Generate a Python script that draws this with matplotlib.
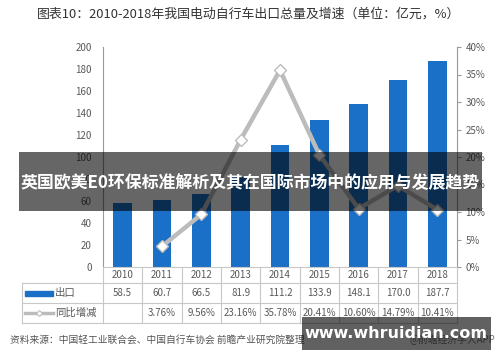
import matplotlib
matplotlib.use('Agg')
import matplotlib.pyplot as plt
import matplotlib.transforms as mtransforms
from matplotlib.patches import Rectangle
from matplotlib.lines import Line2D

plt.rcParams['font.family'] = ['Noto Sans CJK SC', 'DejaVu Sans']

# data
years = ['2010', '2011', '2012', '2013', '2014', '2015', '2016', '2017', '2018']
export = [58.5, 60.7, 66.5, 81.9, 111.2, 133.9, 148.1, 170.0, 187.7]
growth_years = years[1:]
growth = [3.76, 9.56, 23.16, 35.78, 20.41, 10.60, 14.79, 10.41]

title = '图表10：2010-2018年我国电动自行车出口总量及增速（单位：亿元，%）'
banner = '英国欧美E0环保标准解析及其在国际市场中的应用与发展趋势'
source = '资料来源：中国轻工业联合会、中国自行车协会 前瞻产业研究院整理'

blue = '#1a6fc6'
line_gray = '#bcbcbc'
txt_gray = '#595959'
grid_gray = '#c8c8c8'

W, H = 500, 362
fig = plt.figure(figsize=(5, 3.62), dpi=100)


def fx(px):
    return px / W


def fy(py):
    return 1 - py / H


ax_l, ax_r, ax_t, ax_b = 103, 457, 47, 267
ax = fig.add_axes([fx(ax_l), fy(ax_b), (ax_r - ax_l) / W, (ax_b - ax_t) / H])
xs = list(range(len(years)))
ax.bar(xs, export, width=0.48, color=blue, zorder=2)
ax.set_xlim(-0.5, len(years) - 0.5)
ax.set_ylim(0, 200)
ax.set_yticks(range(0, 201, 20))
ax.set_xticks([])
ax.tick_params(axis='y', length=0, labelsize=7, colors=txt_gray, pad=8)
for s in ['top', 'right']:
    ax.spines[s].set_visible(False)
ax.spines['left'].set_color('#999999')
ax.spines['bottom'].set_color(grid_gray)

ax2 = ax.twinx()
gx = [years.index(y) for y in growth_years]
ax2.plot(gx, growth, color=line_gray, lw=3.2, solid_joinstyle='round',
         marker='D', ms=6, mfc='white', mec=line_gray, mew=1, zorder=3)
ax2.set_ylim(0, 40)
ax2.set_yticks(range(0, 41, 5))
ax2.yaxis.set_major_formatter(lambda v, p: f'{v:.0f}%')
ax2.tick_params(axis='y', length=3, width=0.8, labelsize=7, colors=txt_gray,
                pad=3)
ax2.tick_params(axis='y', color='#999999')
for s in ['top', 'left', 'bottom']:
    ax2.spines[s].set_visible(False)
ax2.spines['right'].set_color('#999999')

# table under the chart
row1, row2, row3, row4 = 267, 283, 303, 323
tab_l = 22
col_w = (ax_r - ax_l) / len(years)
lc = grid_gray
for yy in [row2, row3, row4]:
    fig.add_artist(Line2D([fx(tab_l), fx(ax_r)], [fy(yy), fy(yy)], color=lc, lw=0.8))
for i in range(len(years) + 1):
    xx = ax_l + i * col_w
    fig.add_artist(Line2D([fx(xx), fx(xx)], [fy(row1), fy(row4)], color=lc, lw=0.8))
fig.add_artist(Line2D([fx(tab_l), fx(tab_l)], [fy(row2), fy(row4)], color=lc, lw=0.8))

trans = mtransforms.blended_transform_factory(ax.transData, fig.transFigure)
for i, y in enumerate(years):
    fig.text(i, fy((row1 + row2) / 2), y, transform=trans, ha='center',
             va='center', fontsize=7, color=txt_gray)
    fig.text(i, fy((row2 + row3) / 2), f'{export[i]:.1f}', transform=trans,
             ha='center', va='center', fontsize=7, color=txt_gray)
for y, g in zip(growth_years, growth):
    fig.text(years.index(y), fy((row3 + row4) / 2), f'{g:.2f}%',
             transform=trans, ha='center', va='center', fontsize=7,
             color=txt_gray)

# legend swatches in the first column
fig.add_artist(Rectangle((fx(25), fy((row2 + row3) / 2 + 2.5)), 28 / W, 5 / H,
                         color=blue, transform=fig.transFigure))
fig.text(fx(55), fy((row2 + row3) / 2), '出口', ha='left', va='center',
         fontsize=7.5, color=txt_gray)
ymid = fy((row3 + row4) / 2)
fig.add_artist(Line2D([fx(25), fx(53)], [ymid, ymid], color=line_gray, lw=2.5))
fig.add_artist(Line2D([fx(39)], [ymid], marker='D', ms=3, mfc='white',
                      mec=line_gray, mew=0.8))
fig.text(fx(55), ymid, '同比增减', ha='left', va='center', fontsize=7.5,
         color=txt_gray)

# title and source
fig.text(fx(37), fy(14), title, ha='left', va='center', fontsize=9.3,
         color='#333333')
fig.text(fx(10), fy(340), source, ha='left', va='center', fontsize=7,
         color='#555555', style='italic')
fig.text(fx(495), fy(340), '@前瞻经济学人APP', ha='right', va='center',
         fontsize=7, color='#777777')

# overlays
fig.add_artist(Rectangle((fx(19), fy(211)), (482 - 19) / W, (211 - 152) / H,
                         facecolor='black', alpha=0.6, edgecolor='none',
                         transform=fig.transFigure, zorder=10))
fig.text(fx(250), fy(183), banner, ha='center', va='center', fontsize=12.2,
         color='white', fontweight='bold', zorder=11)
fig.add_artist(Rectangle((fx(302), fy(350)), (491 - 302) / W, (350 - 317) / H,
                         facecolor='black', alpha=0.62, edgecolor='none',
                         transform=fig.transFigure, zorder=10))
fig.text(fx(396), fy(333), 'www.whruidian.com', ha='center', va='center',
         fontsize=11.5, color='white', fontweight='bold',
         family=['DejaVu Sans'], zorder=11)

fig.savefig('out.png', dpi=100)
